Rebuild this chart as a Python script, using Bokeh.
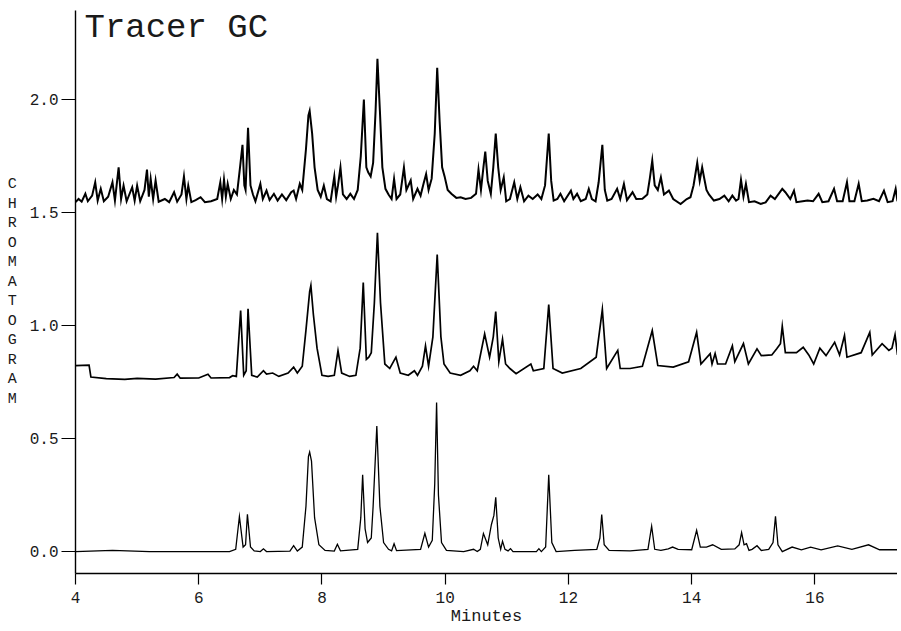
from bokeh.plotting import figure
from bokeh.models import Range1d, FixedTicker, PrintfTickFormatter, Label, ColumnDataSource
from bokeh.embed import file_html
from bokeh.resources import INLINE

# ---- data (minutes, detector response) ----
x_ticks = [4, 6, 8, 10, 12, 14, 16]
y_ticks = [0.0, 0.5, 1.0, 1.5, 2.0]
title_text = "Tracer GC"
x_label = "Minutes"
y_label = "CHROMATOGRAM"

bottom_trace = [
    (4.00, 0.0), (4.60, 0.005), (5.20, 0.0), (5.80, 0.0), (6.50, 0.0),
    (6.60, 0.01), (6.66, 0.155), (6.72, 0.02), (6.76, 0.03), (6.79, 0.165), (6.84, 0.02), (6.90, 0.003),
    (7.00, 0.0), (7.05, 0.012), (7.10, 0.0),
    (7.48, 0.002), (7.54, 0.026), (7.60, 0.002),
    (7.68, 0.02), (7.74, 0.2), (7.78, 0.42), (7.80, 0.44), (7.83, 0.40), (7.88, 0.15), (7.95, 0.03), (8.05, 0.005),
    (8.20, 0.002), (8.25, 0.032), (8.30, 0.003),
    (8.58, 0.01), (8.63, 0.15), (8.66, 0.34), (8.70, 0.10), (8.74, 0.04), (8.77, 0.05), (8.80, 0.06),
    (8.83, 0.2), (8.89, 0.555), (8.94, 0.2), (9.00, 0.04), (9.08, 0.01),
    (9.13, 0.003), (9.17, 0.035), (9.21, 0.004),
    (9.60, 0.01), (9.67, 0.081), (9.73, 0.02), (9.79, 0.05), (9.83, 0.3), (9.86, 0.66), (9.89, 0.25), (9.94, 0.04), (10.02, 0.005),
    (10.30, 0.0), (10.46, 0.01), (10.52, 0.0),
    (10.57, 0.01), (10.62, 0.08), (10.69, 0.03), (10.75, 0.12), (10.79, 0.16), (10.82, 0.24), (10.86, 0.06),
    (10.90, 0.01), (10.93, 0.046), (10.97, 0.01), (11.02, 0.003), (11.06, 0.013), (11.10, 0.0),
    (11.48, 0.0), (11.52, 0.013), (11.56, 0.0), (11.63, 0.02), (11.68, 0.34), (11.73, 0.04), (11.80, 0.0),
    (12.10, 0.005), (12.46, 0.01), (12.51, 0.06), (12.54, 0.164), (12.58, 0.03), (12.66, 0.005),
    (13.00, 0.003), (13.29, 0.01), (13.35, 0.112), (13.40, 0.01), (13.50, 0.005),
    (13.62, 0.012), (13.69, 0.02), (13.78, 0.01),
    (14.00, 0.008), (14.08, 0.094), (14.14, 0.02), (14.24, 0.02), (14.34, 0.03), (14.48, 0.01),
    (14.70, 0.012), (14.77, 0.03), (14.81, 0.084), (14.85, 0.03), (14.89, 0.035), (14.93, 0.005),
    (14.98, 0.01), (15.06, 0.026), (15.13, 0.005),
    (15.25, 0.01), (15.32, 0.04), (15.36, 0.156), (15.40, 0.03), (15.47, 0.0),
    (15.63, 0.02), (15.78, 0.008), (15.93, 0.02), (16.10, 0.008), (16.37, 0.025), (16.60, 0.01),
    (16.87, 0.03), (17.05, 0.008), (17.34, 0.008),
]

middle_trace = [
    (4.00, 0.823), (4.22, 0.825), (4.25, 0.772), (4.50, 0.765), (4.80, 0.762), (5.00, 0.766), (5.30, 0.763),
    (5.60, 0.770), (5.65, 0.785), (5.70, 0.767), (6.00, 0.768), (6.15, 0.785), (6.20, 0.768), (6.50, 0.770), (6.55, 0.778),
    (6.61, 0.775), (6.68, 1.066), (6.73, 0.78), (6.77, 0.80), (6.80, 1.074), (6.86, 0.78), (6.95, 0.772),
    (7.05, 0.80), (7.10, 0.785), (7.20, 0.79), (7.30, 0.775), (7.45, 0.79), (7.54, 0.816), (7.60, 0.79),
    (7.68, 0.82), (7.74, 0.98), (7.80, 1.15), (7.82, 1.177), (7.86, 1.05), (7.92, 0.90), (8.00, 0.78), (8.10, 0.775),
    (8.20, 0.78), (8.26, 0.889), (8.32, 0.79), (8.45, 0.775), (8.55, 0.78),
    (8.62, 0.90), (8.67, 1.19), (8.72, 0.85), (8.76, 0.86), (8.80, 0.88), (8.85, 1.10), (8.90, 1.41), (8.95, 1.10),
    (9.02, 0.83), (9.10, 0.81), (9.20, 0.86), (9.27, 0.79), (9.40, 0.78), (9.50, 0.80), (9.55, 0.78),
    (9.63, 0.82), (9.68, 0.91), (9.73, 0.82), (9.80, 0.95), (9.87, 1.314), (9.93, 0.95), (9.98, 0.83),
    (10.08, 0.79), (10.25, 0.78), (10.40, 0.80), (10.46, 0.82), (10.52, 0.80),
    (10.64, 0.963), (10.72, 0.86), (10.78, 0.95), (10.82, 1.062), (10.87, 0.84), (10.93, 0.94), (10.98, 0.83),
    (11.05, 0.81), (11.15, 0.787), (11.39, 0.83), (11.43, 0.80), (11.60, 0.81),
    (11.68, 1.093), (11.75, 0.81), (11.90, 0.79), (12.20, 0.81), (12.45, 0.86), (12.55, 1.071), (12.62, 0.81),
    (12.80, 0.89), (12.84, 0.81), (13.00, 0.81), (13.20, 0.82),
    (13.36, 0.978), (13.45, 0.823), (13.70, 0.816), (13.95, 0.84), (14.08, 0.97), (14.15, 0.83),
    (14.30, 0.876), (14.33, 0.83), (14.38, 0.876), (14.42, 0.83), (14.55, 0.83),
    (14.66, 0.91), (14.70, 0.84), (14.84, 0.92), (14.92, 0.83), (15.06, 0.897), (15.13, 0.867),
    (15.30, 0.87), (15.38, 0.897), (15.44, 0.92), (15.47, 0.997), (15.52, 0.88), (15.70, 0.88),
    (15.81, 0.904), (15.90, 0.87), (15.98, 0.83), (16.08, 0.90), (16.18, 0.867),
    (16.32, 0.926), (16.40, 0.87), (16.48, 0.956), (16.52, 0.86), (16.75, 0.88), (16.89, 0.97), (16.93, 0.87),
    (17.09, 0.92), (17.20, 0.89), (17.25, 0.90), (17.30, 0.96), (17.34, 0.87),
]

top_trace = [
    (4.00, 1.546), (4.05, 1.56), (4.10, 1.548), (4.16, 1.583), (4.20, 1.55), (4.27, 1.575), (4.32, 1.634),
    (4.36, 1.553), (4.41, 1.605), (4.46, 1.55), (4.53, 1.57), (4.60, 1.634), (4.64, 1.553), (4.70, 1.70),
    (4.74, 1.56), (4.78, 1.619), (4.83, 1.55), (4.92, 1.612), (4.96, 1.553), (5.00, 1.619), (5.05, 1.55),
    (5.12, 1.60), (5.16, 1.69), (5.19, 1.57), (5.22, 1.649), (5.26, 1.56), (5.30, 1.642), (5.35, 1.548),
    (5.45, 1.56), (5.52, 1.546), (5.60, 1.59), (5.65, 1.548), (5.72, 1.58), (5.76, 1.66), (5.80, 1.56),
    (5.83, 1.619), (5.88, 1.546), (5.95, 1.555), (6.03, 1.568), (6.10, 1.546), (6.20, 1.55), (6.30, 1.56),
    (6.35, 1.634), (6.38, 1.56), (6.41, 1.646), (6.44, 1.57), (6.47, 1.627), (6.52, 1.56), (6.57, 1.60),
    (6.62, 1.58), (6.67, 1.70), (6.71, 1.80), (6.74, 1.62), (6.76, 1.60), (6.80, 1.875), (6.84, 1.62),
    (6.88, 1.58), (6.92, 1.55), (7.00, 1.627), (7.04, 1.56), (7.10, 1.597), (7.15, 1.555), (7.22, 1.583),
    (7.28, 1.553), (7.35, 1.58), (7.42, 1.555), (7.50, 1.59), (7.54, 1.597), (7.58, 1.56), (7.64, 1.627),
    (7.68, 1.60), (7.74, 1.78), (7.78, 1.93), (7.80, 1.95), (7.84, 1.85), (7.88, 1.70), (7.93, 1.60),
    (7.98, 1.57), (8.03, 1.619), (8.08, 1.56), (8.14, 1.55), (8.20, 1.66), (8.23, 1.57), (8.26, 1.62),
    (8.30, 1.70), (8.34, 1.58), (8.40, 1.56), (8.46, 1.583), (8.52, 1.56), (8.58, 1.60), (8.63, 1.75),
    (8.68, 2.00), (8.72, 1.70), (8.75, 1.678), (8.79, 1.66), (8.83, 1.72), (8.87, 1.95), (8.90, 2.18),
    (8.94, 1.95), (8.98, 1.70), (9.03, 1.605), (9.08, 1.58), (9.13, 1.56), (9.17, 1.649), (9.21, 1.56),
    (9.27, 1.58), (9.33, 1.70), (9.37, 1.60), (9.44, 1.642), (9.48, 1.56), (9.55, 1.605), (9.60, 1.575),
    (9.65, 1.63), (9.69, 1.67), (9.73, 1.60), (9.78, 1.65), (9.83, 1.85), (9.87, 2.14), (9.91, 1.90),
    (9.95, 1.70), (9.99, 1.66), (10.04, 1.60), (10.10, 1.583), (10.18, 1.565), (10.25, 1.568), (10.33, 1.56),
    (10.42, 1.565), (10.50, 1.583), (10.54, 1.69), (10.58, 1.60), (10.62, 1.70), (10.65, 1.77), (10.69, 1.64),
    (10.74, 1.583), (10.78, 1.70), (10.82, 1.85), (10.86, 1.70), (10.90, 1.60), (10.95, 1.656), (10.99, 1.55),
    (11.05, 1.56), (11.12, 1.634), (11.17, 1.56), (11.22, 1.612), (11.28, 1.55), (11.35, 1.575), (11.42, 1.56),
    (11.50, 1.58), (11.56, 1.56), (11.62, 1.62), (11.68, 1.85), (11.72, 1.64), (11.76, 1.553), (11.82, 1.56),
    (11.87, 1.583), (11.93, 1.55), (12.04, 1.597), (12.08, 1.56), (12.14, 1.583), (12.20, 1.55), (12.28, 1.56),
    (12.33, 1.605), (12.38, 1.56), (12.44, 1.55), (12.49, 1.634), (12.55, 1.80), (12.59, 1.60), (12.63, 1.553),
    (12.70, 1.56), (12.79, 1.605), (12.84, 1.56), (12.90, 1.627), (12.95, 1.555), (13.04, 1.59), (13.10, 1.56),
    (13.20, 1.561), (13.28, 1.58), (13.32, 1.65), (13.36, 1.73), (13.40, 1.62), (13.45, 1.60), (13.50, 1.656),
    (13.55, 1.58), (13.63, 1.597), (13.70, 1.56), (13.82, 1.538), (13.92, 1.56), (13.98, 1.568), (14.03, 1.62),
    (14.09, 1.72), (14.13, 1.64), (14.17, 1.70), (14.20, 1.656), (14.24, 1.60), (14.28, 1.58), (14.36, 1.553),
    (14.45, 1.56), (14.53, 1.575), (14.60, 1.55), (14.66, 1.575), (14.72, 1.553), (14.76, 1.56), (14.80, 1.645),
    (14.84, 1.57), (14.88, 1.627), (14.93, 1.546), (15.02, 1.55), (15.12, 1.538), (15.20, 1.545), (15.28, 1.575),
    (15.35, 1.56), (15.47, 1.605), (15.52, 1.59), (15.60, 1.56), (15.66, 1.597), (15.70, 1.546), (15.80, 1.55),
    (15.88, 1.553), (15.97, 1.55), (16.06, 1.583), (16.12, 1.546), (16.22, 1.55), (16.31, 1.605), (16.36, 1.55),
    (16.45, 1.55), (16.52, 1.634), (16.56, 1.55), (16.64, 1.55), (16.71, 1.627), (16.76, 1.55), (16.85, 1.553),
    (16.95, 1.561), (17.04, 1.55), (17.12, 1.597), (17.18, 1.546), (17.26, 1.55), (17.31, 1.605), (17.34, 1.55),
]

FONT = "Liberation Mono"
INK = "#1a1a1a"

p = figure(width=897, height=631,
           x_range=Range1d(4.0, 17.34), y_range=Range1d(-0.097, 2.394),
           output_backend="svg", toolbar_location=None,
           min_border_left=75, min_border_right=0, min_border_top=10, min_border_bottom=58)
p.outline_line_color = None
p.grid.visible = False
p.background_fill_color = "white"
p.border_fill_color = "white"

for trace, lw in ((bottom_trace, 1.3), (middle_trace, 1.7), (top_trace, 2.0)):
    src = ColumnDataSource(dict(t=[pt[0] for pt in trace], v=[pt[1] for pt in trace]))
    p.line("t", "v", source=src, line_color="black", line_width=lw, line_join="miter")

# x axis
xa = p.xaxis[0]
xa.ticker = FixedTicker(ticks=x_ticks)
xa.formatter = PrintfTickFormatter(format="%d")
xa.axis_label = x_label
xa.axis_label_text_font = FONT
xa.axis_label_text_font_style = "normal"
xa.axis_label_text_font_size = "17px"
xa.axis_label_text_color = INK
xa.axis_label_standoff = 1
xa.major_label_text_font = FONT
xa.major_label_text_font_size = "16px"
xa.major_label_text_color = INK
xa.major_label_standoff = 7
xa.major_tick_in = 0
xa.major_tick_out = 11
xa.minor_tick_line_color = None
xa.axis_line_color = "black"
xa.axis_line_width = 1.4
xa.major_tick_line_width = 1.2

# y axis (stacked upright letters as the axis title)
ya = p.yaxis[0]
ya.ticker = FixedTicker(ticks=y_ticks)
ya.formatter = PrintfTickFormatter(format="%.1f")
ya.axis_label = "\n".join(y_label)
ya.axis_label_orientation = "horizontal"
ya.axis_label_text_font = FONT
ya.axis_label_text_font_style = "normal"
ya.axis_label_text_font_size = "15px"
ya.axis_label_text_line_height = 1.15
ya.axis_label_text_color = INK
ya.axis_label_standoff = 10
ya.major_label_text_font = FONT
ya.major_label_text_font_size = "16px"
ya.major_label_text_color = INK
ya.major_label_standoff = 3
ya.major_tick_in = 0
ya.major_tick_out = 14
ya.minor_tick_line_color = None
ya.axis_line_color = "black"
ya.axis_line_width = 1.4
ya.major_tick_line_width = 1.2

p.add_layout(Label(x=4.0, y=2.394, x_offset=9, y_offset=2, text=title_text,
                   text_font=FONT, text_font_size="34px", text_color=INK,
                   text_baseline="top", text_align="left"))

open("out.html", "w").write(file_html(p, INLINE))
